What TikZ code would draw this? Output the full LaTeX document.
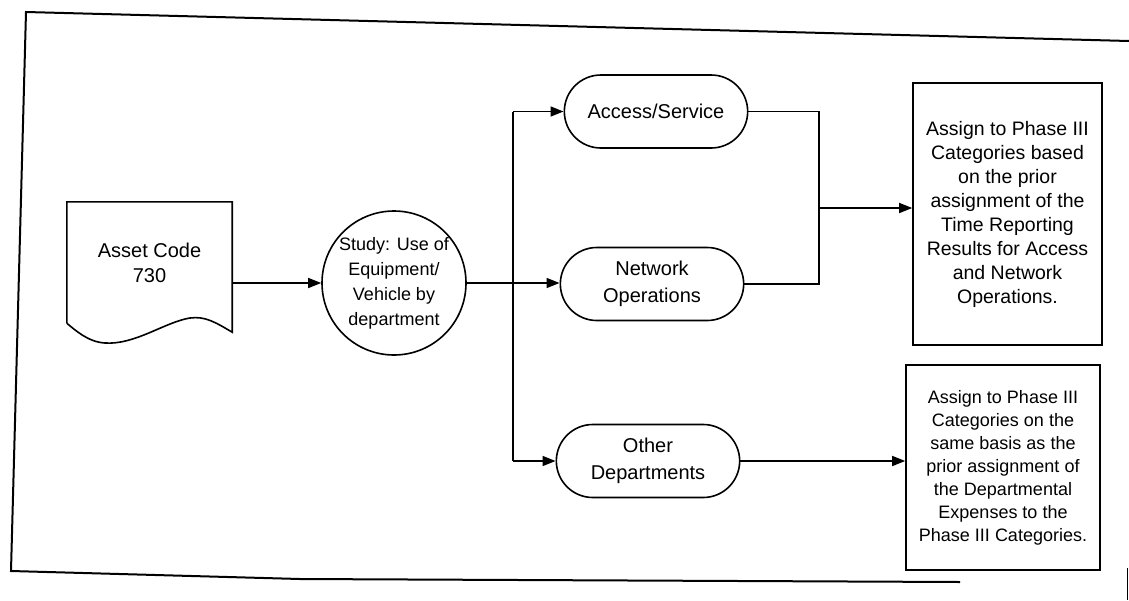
\documentclass[tikz,border=0pt]{standalone}
\usepackage{fontspec}
\setmainfont{Liberation Sans}
\usetikzlibrary{positioning,shapes.misc,arrows.meta}
\tikzset{
  line/.style={line width=1.6pt},
  arr/.style={line, -{Triangle[length=13pt,width=10pt]}},
  dept/.style={draw, line, rounded rectangle, minimum width=190pt, minimum height=73pt, align=center, font=\fontsize{20pt}{27pt}\selectfont},
  result/.style={draw, line, inner sep=0pt, align=center},
}
\begin{document}
\begin{tikzpicture}[x=1pt,y=-1pt]
\useasboundingbox (0,0) rectangle (1129,600);
\draw[line width=2pt] (1129,41) -- (26,12) -- (11,571) -- (300,579) -- (960,582);
\draw[line width=1pt] (1127,568) -- (1127,600);

\node[align=center, minimum width=165pt, minimum height=121pt, font=\fontsize{20pt}{25pt}\selectfont] (asset) at (149.5,262.5) {Asset Code\\730};
\draw[line] (asset.south west) -- (asset.north west) -- (asset.north east) -- ([yshift=-9pt]asset.south east)
  .. controls (215,322) and (205,316) .. (190,318) .. controls (165,322) and (135,345) .. (105,343)
  .. controls (88,342) and (75,330) .. (asset.south west);
\node[draw, line, circle, minimum size=144pt, inner sep=0pt, align=center, font=\fontsize{18pt}{25pt}\selectfont] (study) at (394,283) {Study: Use of\\Equipment/\\Vehicle by\\department};

\node[dept] (acc) at (656,111.5) {Access/Service};
\node[dept] (net) at (652,284) {Network\\Operations};
\node[dept] (oth) at (648,461) {Other\\Departments};

\node[result, minimum width=189pt, minimum height=262pt, font=\fontsize{19.5pt}{24pt}\selectfont] (upper) at (1007.5,214) {Assign to Phase III\\Categories based\\on the prior\\assignment of the\\Time Reporting\\Results for Access\\and Network\\Operations.};
\node[result, minimum width=194pt, minimum height=205pt, font=\fontsize{18pt}{23pt}\selectfont] (lower) at (1003,467.5) {Assign to Phase III\\Categories on the\\same basis as the\\prior assignment of\\the Departmental\\Expenses to the\\Phase III Categories.};

\coordinate (fork) at (513,283);
\coordinate (join) at (819,208);
\draw[arr] (asset.east |- study.west) -- (study.west);
\draw[line] (study.east) -- (fork);
\draw[line] (fork |- acc.west) -- (fork |- oth.west);
\draw[arr] (fork |- acc.west) -- (acc.west);
\draw[arr] (fork) -- (fork -| net.west);
\draw[arr] (fork |- oth.west) -- (oth.west);
\draw[line] (acc.east) -| (join) |- (net.east);
\draw[arr] (join) -- (join -| upper.west);
\draw[arr] (oth.east) -- (oth.east -| lower.west);
\end{tikzpicture}
\end{document}
